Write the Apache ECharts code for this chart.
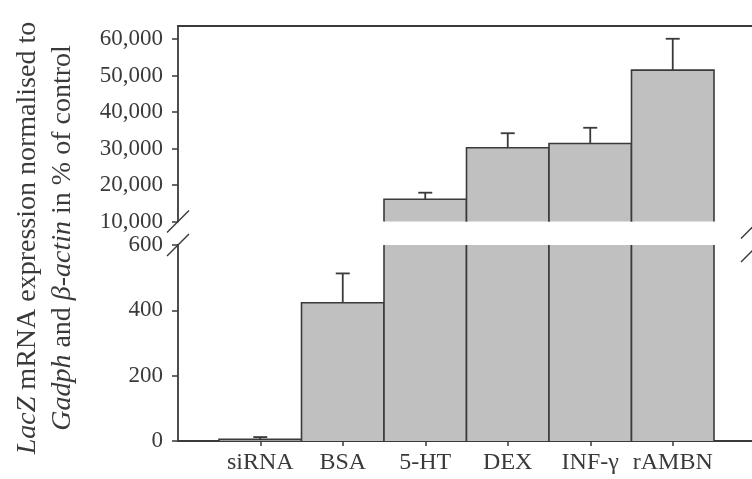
<!DOCTYPE html>
<html>
<head>
<meta charset="utf-8">
<script src="https://cdn.jsdelivr.net/npm/echarts@6/dist/echarts.min.js"></script>
<style>
  html, body { margin: 0; padding: 0; background: #fff; }
  #chart { width: 752px; height: 479px; }
</style>
</head>
<body>
<div id="chart"></div>
<script>
// data
var categories = ['siRNA', 'BSA', '5-HT', 'DEX', 'INF-γ', 'rAMBN'];
var means = [5, 423, 16100, 30200, 31400, 51500];
var errors = [7, 90, 1800, 4000, 4300, 8600];
var lowTicks = [0, 200, 400, 600];
var highTicks = [10000, 20000, 30000, 40000, 50000, 60000];

var BREAK_LOW = 600;     // top of lower panel
var BREAK_HIGH = 10000;  // bottom of upper panel

var chart = echarts.init(document.getElementById('chart'));

var ink = '#3a3a3a';
var serif = '"Liberation Serif", "Times New Roman", serif';

// layout
var axisX = 178;
var barLeft = 219, barRight = 38;
var upTop = 26, upH = 195.5;
var lowTop = 245, lowH = 196;

function fmt(v) {
  return String(v).replace(/\B(?=(\d{3})+(?!\d))/g, ',');
}

var upperBars = [], lowerBars = [], upperErr = [], lowerErr = [];
means.forEach(function (v, i) {
  lowerBars.push([i, v]);
  if (v > BREAK_LOW) {
    upperBars.push([i, v]);
    upperErr.push([i, v, errors[i]]);
  } else {
    lowerErr.push([i, v, errors[i]]);
  }
});

// bar cut at the panel edge: no outline where the axis is broken
function renderBar(params, api) {
  var cs = params.coordSys;
  var c = api.coord([api.value(0), api.value(1)]);
  var w = api.size([1, 0])[0];
  var bottom = cs.y + cs.height;
  var cut = c[1] < cs.y;
  var top = cut ? cs.y : c[1];
  var l = c[0] - w / 2, r = c[0] + w / 2;
  var edge = { stroke: ink, lineWidth: 1.6, fill: null };
  var kids = [{ type: 'rect', shape: { x: l, y: top, width: w, height: bottom - top }, style: { fill: '#c0c0c0' } }];
  if (cut) {
    kids.push({ type: 'polyline', shape: { points: [[l, bottom], [l, top]] }, style: edge });
    kids.push({ type: 'polyline', shape: { points: [[r, top], [r, bottom]] }, style: edge });
  } else {
    kids.push({ type: 'polyline', shape: { points: [[l, bottom], [l, top], [r, top], [r, bottom]] }, style: edge });
  }
  return { type: 'group', children: kids };
}

function renderErr(params, api) {
  var base = api.coord([api.value(0), api.value(1)]);
  var tip = api.coord([api.value(0), api.value(1) + api.value(2)]);
  var st = { stroke: ink, lineWidth: 1.8 };
  return {
    type: 'group',
    children: [
      { type: 'line', shape: { x1: base[0], y1: base[1], x2: tip[0], y2: tip[1] }, style: st },
      { type: 'line', shape: { x1: tip[0] - 7, y1: tip[1], x2: tip[0] + 7, y2: tip[1] }, style: st }
    ]
  };
}

function valueAxis(gridIndex, min, max, ticks) {
  return {
    type: 'value', gridIndex: gridIndex, min: min, max: max,
    offset: barLeft - axisX,
    splitLine: { show: false },
    axisLine: { show: true, lineStyle: { color: ink, width: 1.8 } },
    axisTick: { show: true, length: 6, customValues: ticks, lineStyle: { color: ink, width: 1.5 } },
    axisLabel: {
      customValues: ticks, formatter: fmt, margin: 15,
      color: ink, fontFamily: serif, fontSize: 23
    }
  };
}

function frameAxis(gridIndex, pos) {
  return {
    type: 'value', gridIndex: gridIndex, position: pos, min: 0, max: 1,
    axisLine: { show: true, onZero: false, lineStyle: { color: ink, width: 1.8 } },
    axisTick: { show: false }, axisLabel: { show: false }, splitLine: { show: false }
  };
}

// break marks: decoration only
function slash(cx, cy) {
  return {
    type: 'line', silent: true,
    shape: { x1: cx - 11, y1: cy + 11, x2: cx + 11, y2: cy - 11 },
    style: { stroke: ink, lineWidth: 1.5 }
  };
}

var option = {
  animation: false,
  grid: [
    { left: barLeft, right: barRight, top: upTop, height: upH },
    { left: barLeft, right: barRight, top: lowTop, height: lowH },
    { left: axisX, right: 0, top: upTop, height: upH },
    { left: axisX, right: 0, top: lowTop, height: lowH }
  ],
  xAxis: [
    { type: 'category', gridIndex: 0, data: categories, show: false },
    {
      type: 'category', gridIndex: 1, data: categories,
      axisLine: { show: false },
      axisTick: { show: true, alignWithLabel: true, length: 5, lineStyle: { color: ink, width: 1.5 } },
      axisLabel: { interval: 0, color: ink, fontFamily: serif, fontSize: 24, margin: 10 }
    },
    frameAxis(2, 'top'),
    frameAxis(3, 'bottom')
  ],
  yAxis: [
    valueAxis(0, BREAK_HIGH, 63600, highTicks),
    valueAxis(1, 0, BREAK_LOW, lowTicks),
    { type: 'value', gridIndex: 2, show: false },
    { type: 'value', gridIndex: 3, show: false }
  ],
  series: [
    {
      type: 'custom', xAxisIndex: 0, yAxisIndex: 0, data: upperBars,
      renderItem: renderBar, encode: { x: 0, y: 1 }, clip: false
    },
    {
      type: 'custom', xAxisIndex: 1, yAxisIndex: 1, data: lowerBars,
      renderItem: renderBar, encode: { x: 0, y: 1 }, clip: false
    },
    {
      type: 'custom', xAxisIndex: 0, yAxisIndex: 0, data: upperErr,
      renderItem: renderErr, encode: { x: 0, y: 1 }, z: 5
    },
    {
      type: 'custom', xAxisIndex: 1, yAxisIndex: 1, data: lowerErr,
      renderItem: renderErr, encode: { x: 0, y: 1 }, z: 5
    }
  ],
  graphic: [
    slash(axisX, upTop + upH),
    slash(axisX, lowTop),
    slash(752, upTop + upH + 6),
    slash(752, lowTop + 6),
    {
      type: 'text',
      x: 45, y: 238,
      rotation: Math.PI / 2,
      style: {
        text: '{i|LacZ} mRNA expression normalised to\n{i|Gadph} and {i|β-actin} in % of control',
        fill: ink,
        fontFamily: serif,
        fontSize: 28,
        lineHeight: 35,
        align: 'center',
        verticalAlign: 'middle',
        rich: {
          i: { fontStyle: 'italic', fontFamily: serif, fontSize: 28, fill: ink, lineHeight: 35 }
        }
      }
    }
  ]
};

chart.setOption(option);
</script>
</body>
</html>
